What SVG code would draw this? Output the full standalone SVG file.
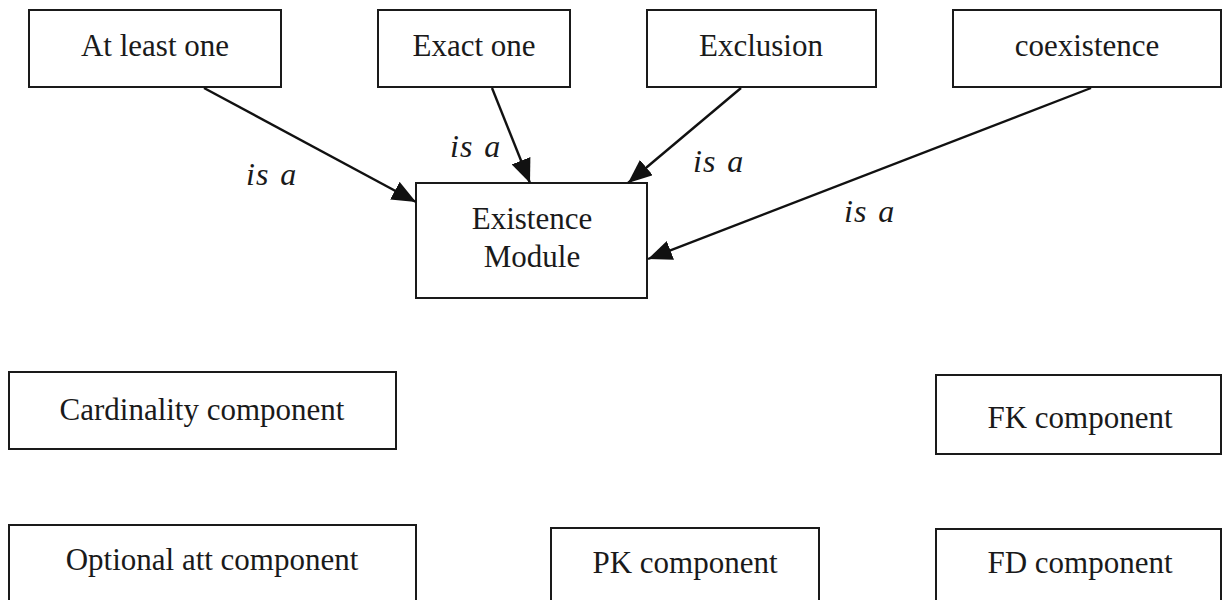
<svg xmlns="http://www.w3.org/2000/svg" width="1223" height="600" viewBox="0 0 1223 600">
  <style>
    .box { fill: #ffffff; stroke: #1a1a1a; stroke-width: 2; }
    .lbl { font-family: "Liberation Serif", "Times New Roman", serif; font-size: 31px; fill: #1a1a1a; text-anchor: middle; }
    .rel { font-family: "Liberation Serif", "Times New Roman", serif; font-size: 32px; font-style: italic; fill: #1a1a1a; letter-spacing: 1px; word-spacing: 2px; }
    .edge { fill: none; stroke: #111111; stroke-width: 2.4; }
  </style>
  <defs>
    <marker id="arrow" markerUnits="userSpaceOnUse" markerWidth="26" markerHeight="20" refX="24" refY="10" orient="auto">
      <path d="M0,0 L24,10 L0,20 Z" fill="#111111"/>
    </marker>
  </defs>

  <rect x="0" y="0" width="1223" height="600" fill="#ffffff"/>

  <!-- concrete constraints -->
  <g id="at-least-one">
    <rect class="box" x="29" y="10" width="252" height="77"/>
    <text class="lbl" x="155" y="56">At least one</text>
  </g>
  <g id="exact-one">
    <rect class="box" x="378" y="10" width="192" height="77"/>
    <text class="lbl" x="474" y="56">Exact one</text>
  </g>
  <g id="exclusion">
    <rect class="box" x="647" y="10" width="229" height="77"/>
    <text class="lbl" x="761" y="56">Exclusion</text>
  </g>
  <g id="coexistence">
    <rect class="box" x="953" y="10" width="268" height="77"/>
    <text class="lbl" x="1087" y="56">coexistence</text>
  </g>

  <!-- parent module -->
  <g id="existence-module">
    <rect class="box" x="416" y="183" width="231" height="115"/>
    <text class="lbl" x="532" y="229">Existence</text>
    <text class="lbl" x="532" y="267">Module</text>
  </g>

  <!-- standalone components -->
  <g id="cardinality-component">
    <rect class="box" x="9" y="372" width="387" height="77"/>
    <text class="lbl" x="202" y="420">Cardinality component</text>
  </g>
  <g id="fk-component">
    <rect class="box" x="936" y="375" width="285" height="79"/>
    <text class="lbl" x="1080" y="428">FK component</text>
  </g>
  <g id="optional-att-component">
    <rect class="box" x="9" y="525" width="407" height="90"/>
    <text class="lbl" x="212" y="570">Optional att component</text>
  </g>
  <g id="pk-component">
    <rect class="box" x="551" y="528" width="268" height="90"/>
    <text class="lbl" x="685" y="573">PK component</text>
  </g>
  <g id="fd-component">
    <rect class="box" x="936" y="529" width="285" height="90"/>
    <text class="lbl" x="1080" y="573">FD component</text>
  </g>

  <!-- "is a" generalisation links -->
  <g id="connectors">
    <path class="edge" d="M204,88 L416,202" marker-end="url(#arrow)"/>
    <path class="edge" d="M492,88 L530,183" marker-end="url(#arrow)"/>
    <path class="edge" d="M741,88 L628,183" marker-end="url(#arrow)"/>
    <path class="edge" d="M1091,88 L648,259" marker-end="url(#arrow)"/>
    <text class="rel" x="246" y="185">is a</text>
    <text class="rel" x="450" y="157">is a</text>
    <text class="rel" x="693" y="172">is a</text>
    <text class="rel" x="844" y="222">is a</text>
  </g>
</svg>
